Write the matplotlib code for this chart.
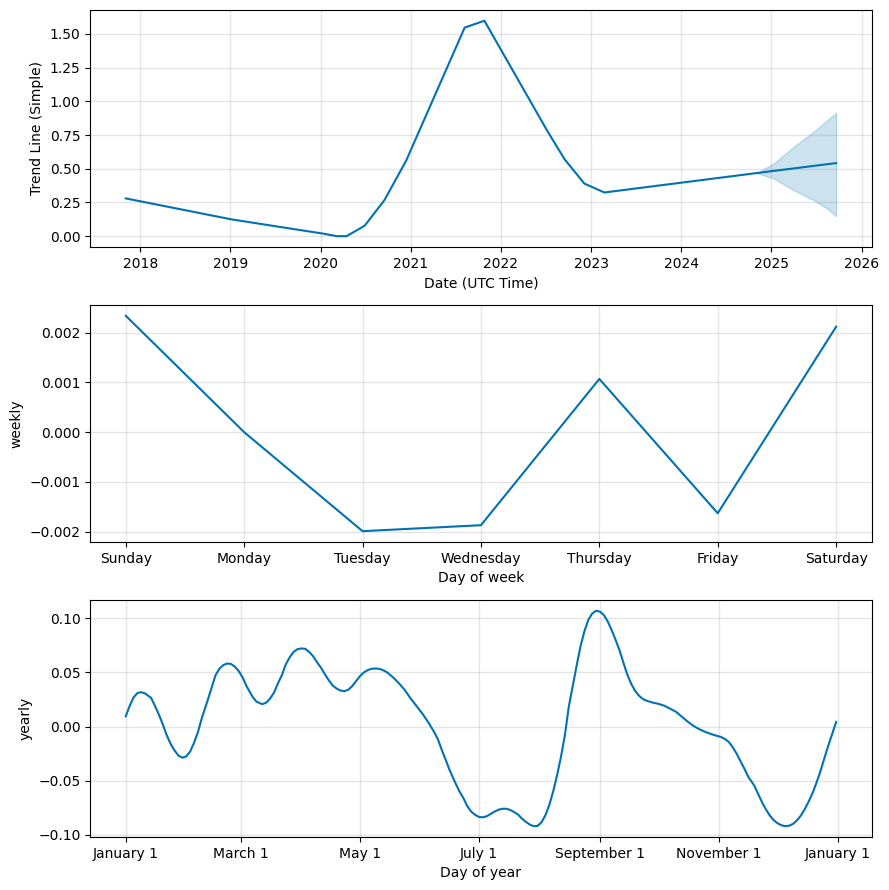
import matplotlib
matplotlib.use("Agg")
import matplotlib.pyplot as plt
import matplotlib.dates as mdates
from matplotlib.ticker import FuncFormatter
import pandas as pd

# ---- Trend panel data ----
trend_dates = ["2017-11-03", "2019-01-04", "2019-07-15", "2020-01-08", "2020-03-07",
               "2020-04-16", "2020-06-28", "2020-09-16", "2020-12-13", "2021-08-07",
               "2021-10-26", "2022-07-08", "2022-09-16", "2022-12-05", "2023-02-24",
               "2024-11-02", "2025-09-20"]
trend_values = [0.28, 0.125, 0.07, 0.02, 0.0,
                0.0, 0.078, 0.267, 0.56, 1.547,
                1.598, 0.78, 0.57, 0.39, 0.324,
                0.468, 0.542]
band_dates = ["2024-11-02", "2025-01-10", "2025-04-01", "2025-06-20", "2025-08-15", "2025-09-20"]
band_lower = [0.468, 0.428, 0.341, 0.267, 0.205, 0.148]
band_upper = [0.468, 0.54, 0.663, 0.774, 0.86, 0.915]

# ---- Weekly panel data ----
week_days = ["Sunday", "Monday", "Tuesday", "Wednesday", "Thursday", "Friday", "Saturday"]
weekly_values = [0.00234, 0.0, -0.00199, -0.00187, 0.00107, -0.00163, 0.00212]

# ---- Yearly panel data (day-of-year offset, value) ----
yearly_days = [0, 2, 4, 6, 8, 10, 13, 15, 17, 19, 21, 23, 25, 27, 29, 31, 33, 35, 37, 39,
               42, 44, 46, 48, 50, 52, 54, 56, 58, 60, 62, 65, 67, 70, 72, 74, 76, 78, 80,
               82, 84, 86, 88, 90, 92, 94, 96, 98, 100, 102, 104, 106, 108, 110, 112, 114,
               116, 118, 120, 122, 124, 126, 128, 130, 132, 134, 137, 140, 143, 146, 149,
               152, 155, 158, 160, 162, 164, 166, 169, 171, 173, 175, 177, 179, 181, 183,
               185, 187, 189, 191, 193, 195, 197, 199, 201, 203, 205, 207, 209, 211, 213,
               215, 217, 219, 221, 223, 225, 227, 229, 231, 233, 235, 237, 239, 241, 243,
               245, 247, 249, 251, 253, 255, 257, 259, 261, 263, 265, 267, 270, 273, 276,
               279, 282, 285, 288, 291, 294, 297, 301, 305, 307, 309, 311, 313, 315, 317,
               319, 322, 324, 326, 328, 330, 332, 334, 336, 338, 340, 342, 344, 346, 348,
               350, 352, 354, 356, 358, 360, 362, 364]
yearly_values = [0.0095, 0.019, 0.027, 0.031, 0.0318, 0.0305, 0.0265, 0.019, 0.011, 0.002,
                 -0.008, -0.016, -0.022, -0.0268, -0.0287, -0.0275, -0.023, -0.015, -0.005,
                 0.008, 0.0244, 0.036, 0.0475, 0.0535, 0.0568, 0.0583, 0.0578, 0.0552, 0.051,
                 0.045, 0.037, 0.0274, 0.023, 0.0207, 0.0222, 0.026, 0.0315, 0.040, 0.0475,
                 0.0575, 0.064, 0.069, 0.0715, 0.0722, 0.0718, 0.069, 0.0650, 0.0595, 0.0545,
                 0.0485, 0.0429, 0.038, 0.0352, 0.0333, 0.0327, 0.034, 0.0373, 0.042, 0.0466,
                 0.0500, 0.0522, 0.0534, 0.0537, 0.0533, 0.0520, 0.050, 0.0454, 0.040, 0.0337,
                 0.0259, 0.019, 0.012, 0.004, -0.0049, -0.012, -0.0219, -0.031, -0.0404,
                 -0.0525, -0.060, -0.066, -0.0735, -0.0785, -0.0815, -0.0835, -0.0838,
                 -0.0828, -0.0806, -0.0785, -0.0768, -0.0759, -0.0759, -0.0770, -0.0790,
                 -0.0812, -0.0850, -0.0880, -0.0905, -0.0920, -0.0918, -0.0885, -0.0820,
                 -0.0725, -0.0600, -0.0450, -0.0280, -0.008, 0.0182, 0.037, 0.0560, 0.0740,
                 0.0880, 0.0985, 0.1045, 0.1070, 0.1062, 0.1030, 0.0970, 0.0890, 0.0800,
                 0.0706, 0.0590, 0.0480, 0.0395, 0.0330, 0.0285, 0.0255, 0.0238, 0.0222,
                 0.021, 0.0192, 0.0165, 0.0136, 0.009, 0.0045, 0.0005, -0.0025, -0.005,
                 -0.0075, -0.0096, -0.0115, -0.0142, -0.019, -0.025, -0.032, -0.0389,
                 -0.0465, -0.0543, -0.062, -0.0698, -0.0765, -0.0821, -0.0865, -0.0893,
                 -0.0912, -0.0920, -0.0915, -0.0898, -0.0865, -0.0820, -0.0760, -0.0690,
                 -0.0610, -0.0515, -0.0410, -0.0290, -0.0175, -0.0065, 0.0043]

COLOR = "#0072B2"

fig, axes = plt.subplots(3, 1, figsize=(8.89, 8.90), dpi=100)
fig.subplots_adjust(left=0.1015, right=0.9805, top=0.9888, bottom=0.0596, hspace=0.245)

def style_grid(ax):
    ax.grid(True, which="major", c="gray", ls="-", lw=1, alpha=0.2)

# Trend
ax = axes[0]
td = pd.to_datetime(trend_dates)
bd = pd.to_datetime(band_dates)
ax.plot(td, trend_values, ls="-", c=COLOR)
ax.fill_between(bd, band_lower, band_upper, color=COLOR, alpha=0.2)
ax.xaxis.set_major_locator(mdates.YearLocator())
ax.xaxis.set_major_formatter(mdates.DateFormatter("%Y"))
style_grid(ax)
ax.set_xlabel("Date (UTC Time)")
ax.set_ylabel("Trend Line (Simple)")

# Weekly
ax = axes[1]
ax.plot(range(len(week_days)), weekly_values, ls="-", c=COLOR)
ax.set_xticks(range(len(week_days)))
ax.set_xticklabels(week_days)
style_grid(ax)
ax.set_xlabel("Day of week")
ax.set_ylabel("weekly")

# Yearly
ax = axes[2]
ydates = pd.Timestamp("2017-01-01") + pd.to_timedelta(yearly_days, unit="D")
ax.plot(ydates, yearly_values, ls="-", c=COLOR)
ax.xaxis.set_major_locator(mdates.MonthLocator(bymonth=range(1, 13), bymonthday=1, interval=2))
ax.xaxis.set_major_formatter(FuncFormatter(
    lambda x, pos=None: "{dt:%B} {dt.day}".format(dt=mdates.num2date(x))))
style_grid(ax)
ax.set_xlabel("Day of year")
ax.set_ylabel("yearly")

fig.savefig("out.png", dpi=100)
